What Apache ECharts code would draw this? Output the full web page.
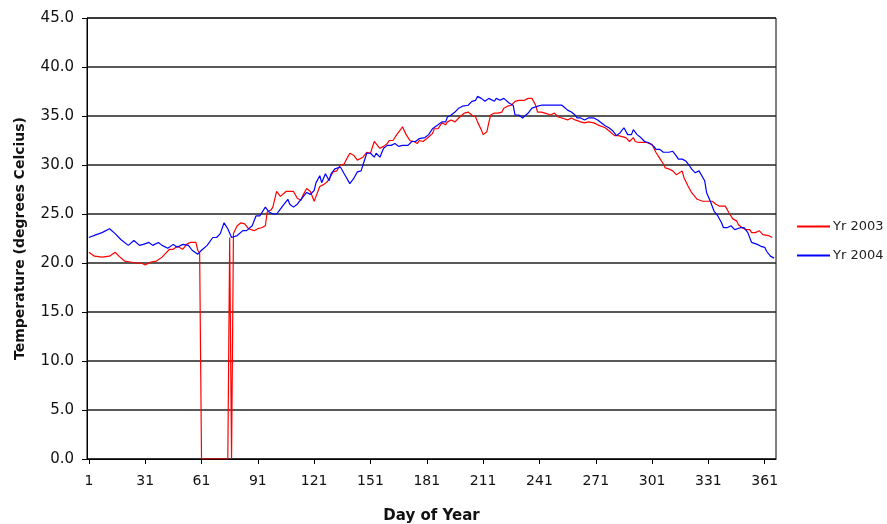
<!DOCTYPE html>
<html>
<head>
<meta charset="utf-8">
<script src="https://cdn.jsdelivr.net/npm/echarts@6/dist/echarts.min.js"></script>
<style>html,body{margin:0;padding:0;background:#fff}#c{width:887px;height:524px}</style>
</head>
<body>
<div id="c"></div>
<script>
var xTicks = [1,31,61,91,121,151,181,211,241,271,301,331,361];
var seriesNames = ['Yr 2003','Yr 2004'];

var days2003 = [1,4,8,12,15,17,20,23,26,29,31,34,37,40,42,44,46,48,51,53,55,58,59,60,61,75,76,77,78,79,80,82,84,86,89,91,93,95,96,98,99,101,103,106,108,110,112,114,115,117,119,121,122,124,126,128,130,131,133,135,137,138,140,142,144,145,147,149,151,153,154,156,158,160,161,163,165,167,168,170,172,174,176,177,179,181,182,184,185,187,189,191,192,194,196,198,199,201,203,205,207,208,210,211,213,214,215,217,219,221,222,224,226,228,230,231,233,235,237,238,239,240,242,244,245,247,249,251,253,254,256,258,260,261,263,265,267,268,270,272,273,276,278,281,283,284,287,289,291,292,294,296,298,299,301,303,305,307,308,310,312,314,315,317,318,320,322,323,325,326,328,330,331,333,335,337,338,340,342,344,346,347,349,351,353,354,356,358,360,361,363,365];
var temp2003 = [21.1,20.7,20.6,20.7,21.1,20.7,20.2,20.1,20.0,20.0,19.8,20.1,20.2,20.6,21.0,21.4,21.4,21.7,21.4,21.9,22.1,22.1,21.3,21.0,0,0,22.6,0,23.0,23.1,23.8,24.1,24.0,23.5,23.3,23.5,23.6,23.8,25.2,25.4,25.7,27.3,26.8,27.3,27.3,27.3,26.6,26.4,26.9,27.6,27.3,26.3,26.8,27.8,28.0,28.3,28.9,29.3,29.4,30.0,30.1,30.5,31.2,31.0,30.5,30.3,30.8,31.3,31.2,32.4,32.2,31.7,31.9,32.2,32.5,32.5,33.1,33.6,33.9,33.1,32.5,32.4,32.2,32.5,32.4,32.7,32.9,33.2,33.7,33.7,34.3,34.1,34.4,34.6,34.4,34.8,34.9,35.3,35.4,35.1,34.9,34.4,33.6,33.1,33.4,34.3,35.1,35.3,35.3,35.4,35.8,36.0,36.1,36.5,36.6,36.6,36.6,36.8,36.8,36.6,36.1,35.4,35.4,35.3,35.1,35.1,35.3,34.9,34.8,34.6,34.6,34.8,34.6,34.4,34.4,34.3,34.4,34.3,34.3,34.1,34.1,33.8,33.5,33.0,33.0,32.8,32.8,32.4,32.8,32.4,32.3,32.3,32.3,32.1,32.1,31.3,30.7,30.1,29.7,29.6,29.4,29.0,28.9,29.4,28.7,27.9,27.2,27.0,26.5,26.7,26.3,26.3,26.2,26.3,26.0,25.8,25.6,25.8,25.1,24.5,24.3,23.9,23.6,23.4,23.4,23.1,23.1,23.3,22.9,23.1,22.8,22.6];

var days2004 = [1,5,8,12,15,18,22,25,28,30,33,35,38,40,43,46,48,51,54,56,59,61,64,67,69,71,73,75,77,80,83,85,88,90,92,93,95,97,99,101,103,105,107,108,110,112,114,115,117,119,121,122,124,125,127,129,130,132,135,137,138,140,142,144,146,147,149,151,153,154,156,158,160,162,164,166,168,169,171,173,175,177,178,180,182,184,185,187,189,191,192,194,196,198,200,201,203,205,207,208,210,212,214,215,217,218,220,222,223,225,227,228,230,232,233,235,237,238,240,242,244,246,249,253,254,256,258,260,261,263,265,267,268,270,272,273,276,278,280,282,284,286,288,290,291,293,295,297,299,300,302,303,305,307,308,310,312,314,315,317,319,321,322,324,326,327,329,330,332,333,334,336,338,339,341,343,345,346,348,350,352,354,355,357,359,361,362,364,366];
var temp2004 = [22.6,22.9,23.1,23.5,23.0,22.4,21.8,22.3,21.8,21.9,22.1,21.8,22.1,21.8,21.5,21.9,21.6,21.9,21.8,21.3,20.9,21.3,21.8,22.6,22.6,23.0,24.1,23.5,22.6,22.8,23.3,23.3,23.8,24.8,24.8,25.0,25.7,25.2,25.0,25.0,25.5,26.0,26.5,26.0,25.7,26.0,26.5,26.5,27.2,27.0,27.4,28.2,28.9,28.2,29.1,28.4,29.1,29.6,29.8,29.1,29.3,28.1,28.6,29.3,29.4,29.4,31.2,31.2,30.8,31.2,30.8,31.7,32.0,32.0,32.2,31.9,32.0,31.9,32.0,32.4,32.4,32.7,32.9,32.8,33.1,33.7,33.7,34.1,34.4,34.4,34.9,35.1,35.4,35.8,36.0,36.1,36.1,36.5,36.6,37.0,36.8,36.5,36.8,36.8,36.5,36.8,36.6,36.8,36.6,36.3,36.1,35.1,35.1,34.8,34.9,35.3,35.8,35.6,36.0,36.1,36.1,36.1,36.1,36.1,36.1,35.6,35.4,35.1,34.8,34.8,34.6,34.8,34.6,34.8,34.6,34.5,34.0,33.8,33.5,33.0,33.3,33.8,33.1,33.1,33.6,33.1,32.8,32.4,32.3,32.1,31.9,31.6,31.6,31.3,31.3,31.3,31.4,30.9,30.6,30.6,30.4,29.9,29.6,29.2,29.4,29.6,28.4,27.2,26.3,26.2,25.3,24.8,24.1,23.6,23.6,23.8,23.4,23.6,23.6,23.6,23.1,22.1,22.1,21.9,21.7,21.6,21.2,20.7,20.5];

function pairs(d, v){ return d.map(function(x,i){ return [x, v[i]]; }); }

var FONT = 'DejaVu Sans';
var chart = echarts.init(document.getElementById('c'), null, {renderer:'canvas'});
chart.setOption({
  animation: false,
  backgroundColor: '#fff',
  grid: { left: 87, right: 111, top: 18, bottom: 65, show: true, borderColor: '#000', borderWidth: 1, outerBoundsMode: 'none', containLabel: false },
  legend: {
    orient: 'vertical', left: 797, top: 220, padding: 0, itemWidth: 33, itemHeight: 2, itemGap: 16,
    icon: 'rect',
    textStyle: { fontFamily: FONT, fontSize: 13, color: '#222', padding: [0,0,0,-2] },
    data: seriesNames
  },
  xAxis: {
    type: 'value', min: 0, max: 367,
    name: 'Day of Year', nameLocation: 'middle', nameGap: 50,
    nameTextStyle: { fontFamily: FONT, fontSize: 15, fontWeight: 'bold', color: '#111' },
    axisLine: { show: true, lineStyle: { color: '#000', width: 1 } },
    axisTick: { show: true, length: 5, lineStyle: { color: '#000' }, customValues: xTicks },
    axisLabel: { fontFamily: FONT, fontSize: 14, color: '#111', margin: 15, customValues: xTicks },
    splitLine: { show: false }
  },
  yAxis: {
    type: 'value', min: 0, max: 45, interval: 5,
    name: 'Temperature (degrees Celcius)', nameLocation: 'middle', nameGap: 60,
    nameTextStyle: { fontFamily: FONT, fontSize: 14, fontWeight: 'bold', color: '#111' },
    axisLine: { show: true, lineStyle: { color: '#000', width: 1 } },
    axisTick: { show: true, length: 5, lineStyle: { color: '#000' } },
    axisLabel: { fontFamily: FONT, fontSize: 15, color: '#111', margin: 13, formatter: function(v){ return v.toFixed(1); } },
    splitLine: { show: true, lineStyle: { color: '#222', width: 1.5 } }
  },
  series: [
    { name: seriesNames[0], type: 'line', symbol: 'none', data: pairs(days2003, temp2003), lineStyle: { color: '#ff0000', width: 1.2 }, itemStyle: { color: '#ff0000' } },
    { name: seriesNames[1], type: 'line', symbol: 'none', data: pairs(days2004, temp2004), lineStyle: { color: '#0000ff', width: 1.2 }, itemStyle: { color: '#0000ff' } }
  ]
});
</script>
</body>
</html>
